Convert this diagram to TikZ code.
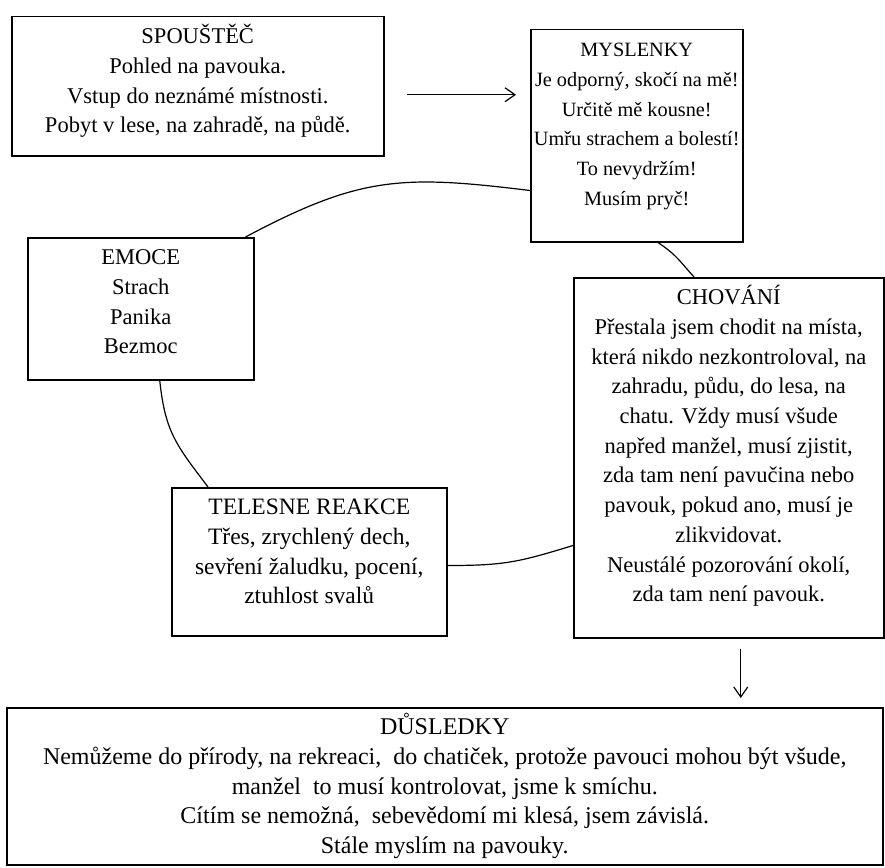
\documentclass[tikz,border=0pt]{standalone}
\usepackage{fontspec}
\setmainfont{Liberation Serif}
\usepackage{tikz}
\usetikzlibrary{arrows.meta}
\tikzset{box/.style={draw, fill=white, line width=1.5pt, inner sep=0pt, anchor=north west, font=\fontsize{22.5}{29.7}\selectfont},
  arc/.style={line width=1.2pt, looseness=1.15}, >/.tip={Straight Barb[length=10pt,width=14pt]}}
\newcommand{\boxtxt}[3]{\parbox[t][#2][t]{#1}{\centering\leftskip=-20pt plus 1fil\rightskip=-20pt plus 1fil\rule{0pt}{27pt}#3}}

\begin{document}
\begin{tikzpicture}[x=1pt,y=1pt]
\useasboundingbox (0,0) rectangle (885,-867);
\node[box] (spoustec) at (11,-16) {\boxtxt{372pt}{139pt}{SPOUŠTĚČ\\Pohled na pavouka.\\Vstup do neznámé místnosti.\\Pobyt v lese, na zahradě, na půdě.}};
\node[box,font=\fontsize{20.3}{29.7}\selectfont] (myslenky) at (530,-29) {\boxtxt{212pt}{212pt}{MYSLENKY\\Je odporný, skočí na mě!\\Určitě mě kousne!\\Umřu strachem a bolestí!\\To nevydržím!\\Musím pryč!}};
\node[box] (emoce) at (27,-237) {\boxtxt{226pt}{142pt}{EMOCE\\Strach\\Panika\\Bezmoc}};
\node[box] (chovani) at (573,-277) {\boxtxt{310pt}{360pt}{CHOVÁNÍ\\Přestala jsem chodit na místa,\\která nikdo nezkontroloval, na\\zahradu, půdu, do lesa, na\\chatu. Vždy musí všude\\napřed manžel, musí zjistit,\\zda tam není pavučina nebo\\pavouk, pokud ano, musí je\\zlikvidovat.\\Neustálé pozorování okolí,\\zda tam není pavouk.}};
\node[box,font=\fontsize{23.5}{29.7}\selectfont] (telesne) at (171,-487) {\boxtxt{275pt}{148pt}{TELESNE REAKCE\\Třes, zrychlený dech,\\sevření žaludku, pocení,\\ztuhlost svalů}};
\node[box,font=\fontsize{24}{29.7}\selectfont] (dusledky) at (6,-707) {\boxtxt{876pt}{157pt}{DŮSLEDKY\\Nemůžeme do přírody, na rekreaci,\ \ do chatiček, protože pavouci mohou být všude,\\manžel\ \ to musí kontrolovat, jsme k smíchu.\\Cítím se nemožná,\ \ sebevědomí mi klesá, jsem závislá.\\Stále myslím na pavouky.}};

\draw[arc] ([xshift=-9pt]emoce.north east) to[out=28,in=173] ([yshift=52pt]myslenky.south west);
\draw[arc] ([xshift=128pt]myslenky.south west) to[out=-34,in=132] ([xshift=121pt]chovani.north west);
\draw[arc] ([yshift=93pt]chovani.south west) to[out=197,in=0] ([yshift=71pt]telesne.south east);
\draw[arc] ([xshift=19pt]emoce.south) to[out=-84,in=127] ([xshift=37pt]telesne.north west);
\draw[->,line width=1.2pt,shorten <=22pt,shorten >=14pt] ([yshift=-8.5pt]spoustec.east) -- ([yshift=-8.5pt]spoustec.east -| myslenky.west);
\draw[->,line width=1.2pt,shorten <=10pt,shorten >=9pt] ([xshift=12pt]chovani.south) -- ([xshift=12pt]chovani.south |- dusledky.north);
\end{tikzpicture}
\end{document}
